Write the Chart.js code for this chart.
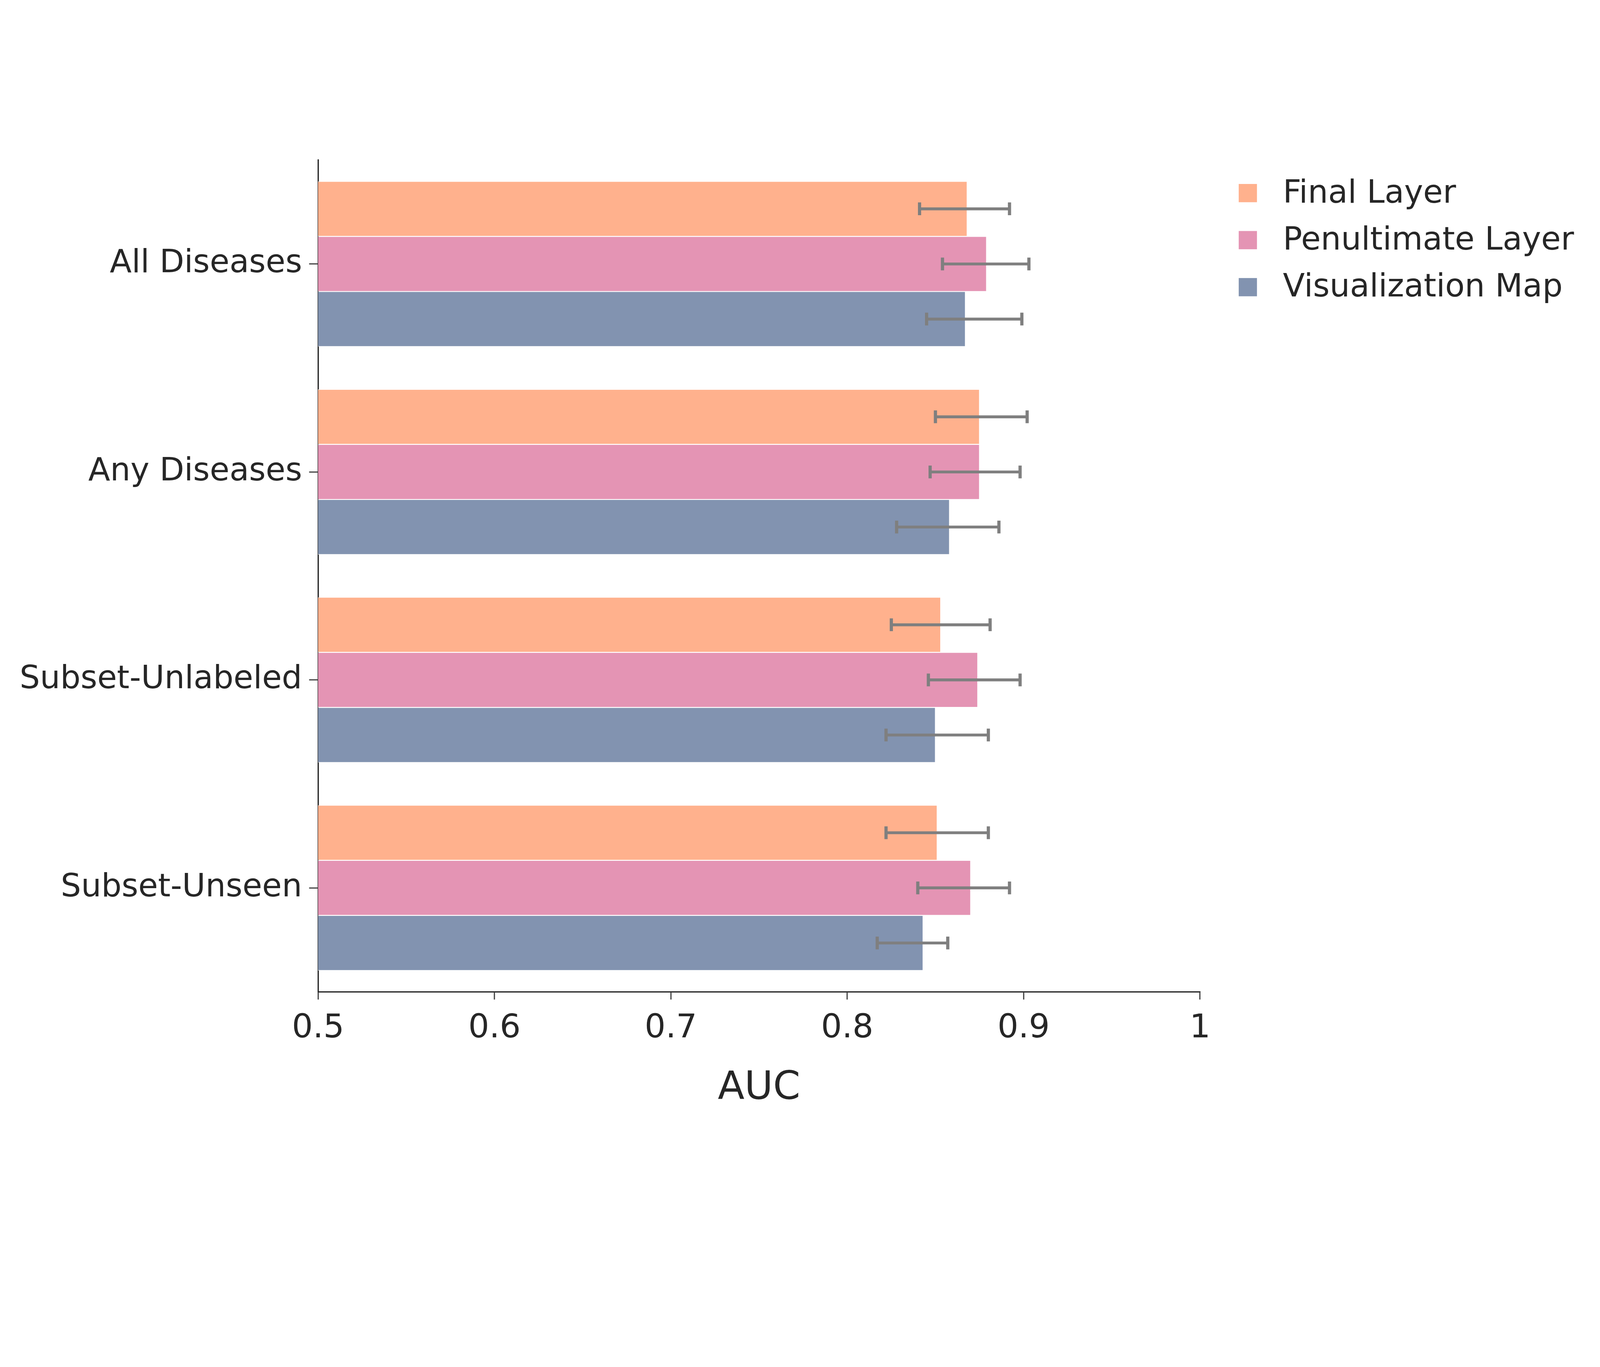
<!DOCTYPE html>
<html>
<head>
<meta charset="utf-8">
<script src="https://cdn.jsdelivr.net/npm/chart.js@4.4.1/dist/chart.umd.min.js"></script>
<style>
  html, body { margin: 0; padding: 0; background: #ffffff; overflow: hidden; }
  #wrap { position: absolute; left: 0; top: 0; }
  canvas { display: block; }
</style>
</head>
<body>
<div id="wrap"><canvas id="aucChart"></canvas></div>
<script>
var categories = ["All Diseases", "Any Diseases", "Subset-Unlabeled", "Subset-Unseen"];
var seriesNames = ["Final Layer", "Penultimate Layer", "Visualization Map"];

// AUC per category
var finalLayer = [0.868, 0.875, 0.853, 0.851];
var penultimateLayer = [0.879, 0.875, 0.874, 0.870];
var visualizationMap = [0.867, 0.858, 0.850, 0.843];

// error bar ends (lower / upper)
var finalLow = [0.841, 0.850, 0.825, 0.822];
var finalHigh = [0.892, 0.902, 0.881, 0.880];
var penultimateLow = [0.854, 0.847, 0.846, 0.840];
var penultimateHigh = [0.903, 0.898, 0.898, 0.892];
var visualizationLow = [0.845, 0.828, 0.822, 0.817];
var visualizationHigh = [0.899, 0.886, 0.880, 0.857];

var xTicks = [0.5, 0.6, 0.7, 0.8, 0.9, 1];

var colors = ["#ffb18d", "#e494b4", "#8293b0"];
var textColor = "#262626";
var fontFamily = "'DejaVu Sans', Verdana, sans-serif";

// everything is laid out for a 5000x3500 page, then scaled to the real window
var k = Math.min(window.innerWidth / 5000, window.innerHeight / 3500);
function s(v) { return v * k; }

let wrap = document.getElementById("wrap");
wrap.style.width = s(5000) + "px";
wrap.style.height = s(3500) + "px";

Chart.defaults.font.family = fontFamily;
Chart.defaults.color = textColor;

var lows = [finalLow, penultimateLow, visualizationLow];
var highs = [finalHigh, penultimateHigh, visualizationHigh];
var seriesValues = [finalLayer, penultimateLayer, visualizationMap];

// draws the gray error bars from the low/high arrays
var errorBarPlugin = {
    id: "errorBars",
    afterDatasetsDraw: function (chart) {
        let ctx = chart.ctx;
        let xScale = chart.scales.x;
        ctx.save();
        ctx.strokeStyle = "#7f7f7f";
        chart.data.datasets.forEach(function (ds, d) {
            let meta = chart.getDatasetMeta(d);
            meta.data.forEach(function (bar, i) {
                let x1 = xScale.getPixelForValue(lows[d][i]);
                let x2 = xScale.getPixelForValue(highs[d][i]);
                let y = bar.y;
                ctx.lineWidth = s(9);
                ctx.beginPath();
                ctx.moveTo(x1, y);
                ctx.lineTo(x2, y);
                ctx.stroke();
                ctx.lineWidth = s(10);
                ctx.beginPath();
                ctx.moveTo(x1, y - s(20));
                ctx.lineTo(x1, y + s(20));
                ctx.moveTo(x2, y - s(20));
                ctx.lineTo(x2, y + s(20));
                ctx.stroke();
            });
        });
        ctx.restore();
    }
};

// legend at the right, outside the plot
var sideLegendPlugin = {
    id: "sideLegend",
    afterDraw: function (chart) {
        let ctx = chart.ctx;
        let area = chart.chartArea;
        ctx.save();
        ctx.font = s(100) + "px " + fontFamily;
        ctx.textBaseline = "middle";
        ctx.textAlign = "left";
        chart.data.datasets.forEach(function (ds, d) {
            let cy = area.top + s(103) + d * s(147);
            ctx.fillStyle = ds.backgroundColor;
            ctx.fillRect(area.right + s(121), cy - s(28), s(57), s(57));
            ctx.fillStyle = textColor;
            ctx.fillText(ds.label, area.right + s(259), cy + s(4));
        });
        ctx.restore();
    }
};

new Chart(document.getElementById("aucChart"), {
    type: "bar",
    data: {
        labels: categories,
        datasets: seriesNames.map(function (name, d) {
            return {
                label: name,
                data: seriesValues[d],
                backgroundColor: colors[d],
                borderColor: "#ffffff",
                borderWidth: s(1.5),
                borderSkipped: "start",
                barPercentage: 1.0,
                categoryPercentage: 0.795
            };
        })
    },
    options: {
        indexAxis: "y",
        responsive: true,
        maintainAspectRatio: false,
        animation: false,
        layout: {
            padding: { top: s(500), right: s(1250), bottom: s(23), left: 0 }
        },
        plugins: {
            legend: { display: false },
            tooltip: { enabled: false }
        },
        scales: {
            x: {
                type: "linear",
                min: 0.5,
                max: 1,
                z: 1,
                afterBuildTicks: function (scale) {
                    scale.ticks = xTicks.map(function (v) { return { value: v }; });
                },
                afterFit: function (scale) { scale.height = s(377); },
                ticks: {
                    color: textColor,
                    font: { size: s(103) },
                    padding: s(30),
                    callback: function (v) { return String(v); }
                },
                grid: {
                    drawOnChartArea: false,
                    drawTicks: true,
                    tickLength: s(24),
                    color: "#4d4d4d",
                    lineWidth: s(4)
                },
                border: { display: true, color: textColor, width: s(4) },
                title: {
                    display: true,
                    text: "AUC",
                    color: textColor,
                    font: { size: s(122) },
                    padding: 0
                }
            },
            y: {
                type: "category",
                z: 1,
                afterFit: function (scale) { scale.width = s(994); },
                ticks: {
                    color: textColor,
                    font: { size: s(100) },
                    padding: s(22)
                },
                grid: {
                    drawOnChartArea: false,
                    drawTicks: true,
                    offset: false,
                    tickLength: s(28),
                    color: "#4d4d4d",
                    lineWidth: s(4)
                },
                border: { display: true, color: textColor, width: s(4) }
            }
        }
    },
    plugins: [errorBarPlugin, sideLegendPlugin]
});
</script>
</body>
</html>
